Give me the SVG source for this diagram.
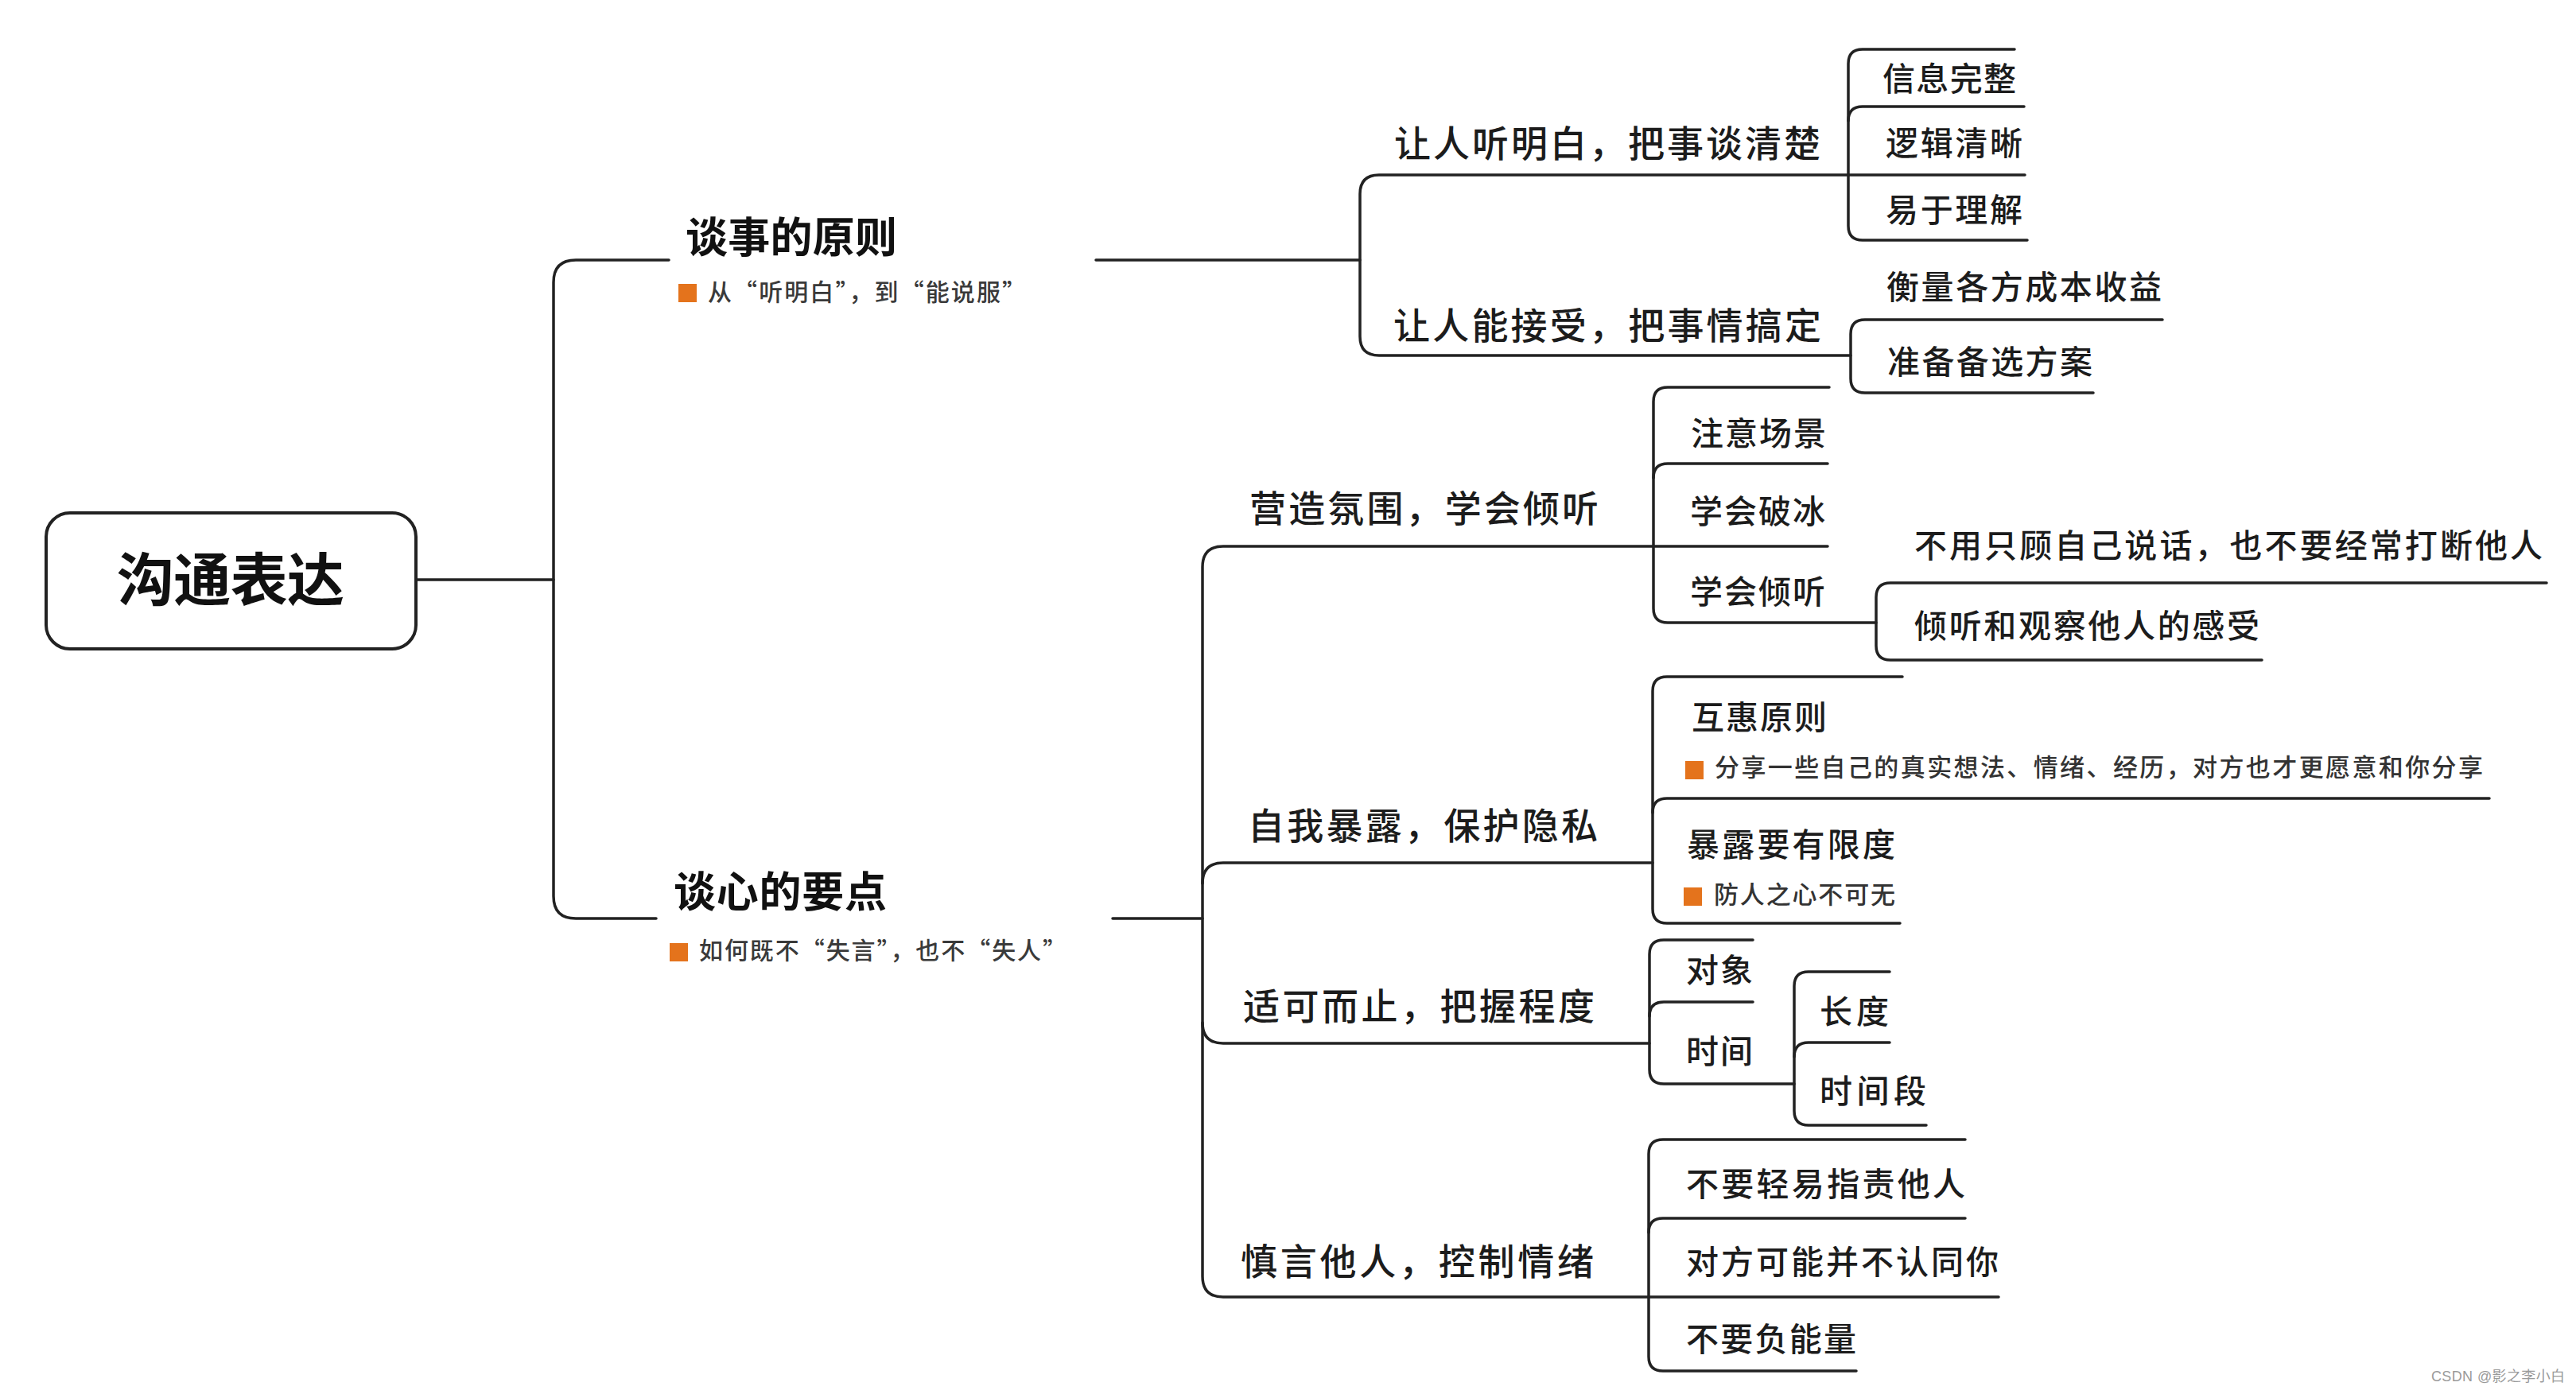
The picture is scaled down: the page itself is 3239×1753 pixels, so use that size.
<svg xmlns="http://www.w3.org/2000/svg" width="3239" height="1753" viewBox="0 0 3239 1753">
<style>
  text { font-family: "Noto Sans CJK SC", "Noto Sans", sans-serif; fill: #1c1c1c; }
  .root { font-size: 72px; font-weight: bold; fill: #111; }
  .l1 { font-size: 53px; font-weight: bold; fill: #111; }
  .sub { font-size: 30px; fill: #3a3a3a; font-weight: 500; }
  .l2 { font-size: 46px; font-weight: 500; }
  .l3 { font-size: 41px; font-weight: 500; }
  .note { font-size: 31px; fill: #333; font-weight: 500; }
  .wm { font-family: "Liberation Sans", "Noto Sans CJK SC", sans-serif; font-size: 18px; fill: #9a9a9a; }
  .c { fill: none; stroke: #222; stroke-width: 3.5; stroke-linecap: round; stroke-linejoin: round; }
  .box { fill: #fff; stroke: #222; stroke-width: 4; }
  .mark { fill: #e4731c; }
</style>
<rect width="3239" height="1753" fill="#ffffff"/>

<g id="connectors">
  <path class="c" d="M 523 729 H 696"/>
  <path class="c" d="M 841 327 H 724 Q 696 327 696 355 V 1127 Q 696 1155 724 1155 H 825"/>
  <path class="c" d="M 1378 327 H 1710"/>
  <path class="c" d="M 2546 220 H 1734 Q 1710 220 1710 244 V 423 Q 1710 447 1734 447 H 2327"/>
  <path class="c" d="M 2533 62 H 2342 Q 2324 62 2324 80 V 284 Q 2324 302 2342 302 H 2549"/>
  <path class="c" d="M 2545 134 H 2342 Q 2324 134 2324 152"/>
  <path class="c" d="M 2719 402 H 2345 Q 2327 402 2327 420 V 476 Q 2327 494 2345 494 H 2632"/>
  <path class="c" d="M 1399 1155 H 1512"/>
  <path class="c" d="M 2298 687 H 1538 Q 1512 687 1512 713 V 1605 Q 1512 1631 1538 1631 H 2513"/>
  <path class="c" d="M 2078 1085 H 1538 Q 1512 1085 1512 1111"/>
  <path class="c" d="M 1512 1286 Q 1512 1312 1538 1312 H 2074"/>
  <path class="c" d="M 2300 487 H 2097 Q 2079 487 2079 505 V 765 Q 2079 783 2097 783 H 2359"/>
  <path class="c" d="M 2298 583 H 2097 Q 2079 583 2079 601"/>
  <path class="c" d="M 3202 733 H 2377 Q 2359 733 2359 751 V 812 Q 2359 830 2377 830 H 2844"/>
  <path class="c" d="M 2392 851 H 2096 Q 2078 851 2078 869 V 1143 Q 2078 1161 2096 1161 H 2389"/>
  <path class="c" d="M 3130 1004 H 2096 Q 2078 1004 2078 1022"/>
  <path class="c" d="M 2204 1182 H 2092 Q 2074 1182 2074 1200 V 1345 Q 2074 1363 2092 1363 H 2256"/>
  <path class="c" d="M 2204 1260 H 2092 Q 2074 1260 2074 1278"/>
  <path class="c" d="M 2376 1222 H 2274 Q 2256 1222 2256 1240 V 1397 Q 2256 1415 2274 1415 H 2422"/>
  <path class="c" d="M 2376 1311 H 2274 Q 2256 1311 2256 1329"/>
  <path class="c" d="M 2471 1433 H 2091 Q 2073 1433 2073 1451 V 1706 Q 2073 1724 2091 1724 H 2334"/>
  <path class="c" d="M 2471 1532 H 2091 Q 2073 1532 2073 1550"/>
</g>

<g id="root">
  <rect class="box" x="58" y="645" width="465" height="171" rx="30" ry="30"/>
  <text class="root" x="290" y="755" text-anchor="middle" textLength="286">沟通表达</text>
</g>

<g id="n-tanshi">
  <text class="l1" x="862" y="318" textLength="266">谈事的原则</text>
  <rect class="mark" x="853" y="357" width="23" height="23"/>
  <text class="sub" x="890" y="378" textLength="400">从“听明白”，到“能说服”</text>
</g>
<g id="n-tingmingbai"><text class="l2" x="1753" y="197" textLength="536">让人听明白，把事谈清楚</text></g>
<g id="n-xinxi"><text class="l3" x="2367" y="114" textLength="168">信息完整</text></g>
<g id="n-luoji"><text class="l3" x="2371" y="195" textLength="172">逻辑清晰</text></g>
<g id="n-yiyu"><text class="l3" x="2371" y="279" textLength="172">易于理解</text></g>
<g id="n-jieshou"><text class="l2" x="1752" y="426" textLength="538">让人能接受，把事情搞定</text></g>
<g id="n-hengliang"><text class="l3" x="2372" y="376" textLength="346">衡量各方成本收益</text></g>
<g id="n-zhunbei"><text class="l3" x="2373" y="470" textLength="258">准备备选方案</text></g>

<g id="n-tanxin">
  <text class="l1" x="847" y="1141" textLength="268">谈心的要点</text>
  <rect class="mark" x="842" y="1186" width="23" height="23"/>
  <text class="sub" x="879" y="1206" textLength="462">如何既不“失言”，也不“失人”</text>
</g>
<g id="n-yingzao"><text class="l2" x="1571" y="656" textLength="439">营造氛围，学会倾听</text></g>
<g id="n-changjing"><text class="l3" x="2126" y="560" textLength="170">注意场景</text></g>
<g id="n-pobing"><text class="l3" x="2125" y="658" textLength="170">学会破冰</text></g>
<g id="n-qingting"><text class="l3" x="2125" y="759" textLength="170">学会倾听</text></g>
<g id="n-buyong"><text class="l3" x="2407" y="701" textLength="790">不用只顾自己说话，也不要经常打断他人</text></g>
<g id="n-guancha"><text class="l3" x="2407" y="802" textLength="434">倾听和观察他人的感受</text></g>

<g id="n-ziwo"><text class="l2" x="1569" y="1055" textLength="440">自我暴露，保护隐私</text></g>
<g id="n-huhui">
  <text class="l3" x="2127" y="917" textLength="170">互惠原则</text>
  <rect class="mark" x="2119" y="957" width="23" height="23"/>
  <text class="note" x="2156" y="976" textLength="966">分享一些自己的真实想法、情绪、经历，对方也才更愿意和你分享</text>
</g>
<g id="n-xiandu">
  <text class="l3" x="2121" y="1077" textLength="262">暴露要有限度</text>
  <rect class="mark" x="2117" y="1116" width="23" height="23"/>
  <text class="note" x="2155" y="1136" textLength="228">防人之心不可无</text>
</g>

<g id="n-shike"><text class="l2" x="1563" y="1282" textLength="442">适可而止，把握程度</text></g>
<g id="n-duixiang"><text class="l3" x="2120" y="1235" textLength="84">对象</text></g>
<g id="n-shijian"><text class="l3" x="2120" y="1337" textLength="84">时间</text></g>
<g id="n-changdu"><text class="l3" x="2288" y="1287" textLength="87">长度</text></g>
<g id="n-shijianduan"><text class="l3" x="2288" y="1387" textLength="134">时间段</text></g>

<g id="n-shenyan"><text class="l2" x="1560" y="1603" textLength="444">慎言他人，控制情绪</text></g>
<g id="n-zhize"><text class="l3" x="2120" y="1504" textLength="351">不要轻易指责他人</text></g>
<g id="n-rentong"><text class="l3" x="2120" y="1602" textLength="393">对方可能并不认同你</text></g>
<g id="n-funengliang"><text class="l3" x="2120" y="1699" textLength="214">不要负能量</text></g>

<text class="wm" x="3057" y="1737" textLength="168">CSDN @影之李小白</text>
</svg>
